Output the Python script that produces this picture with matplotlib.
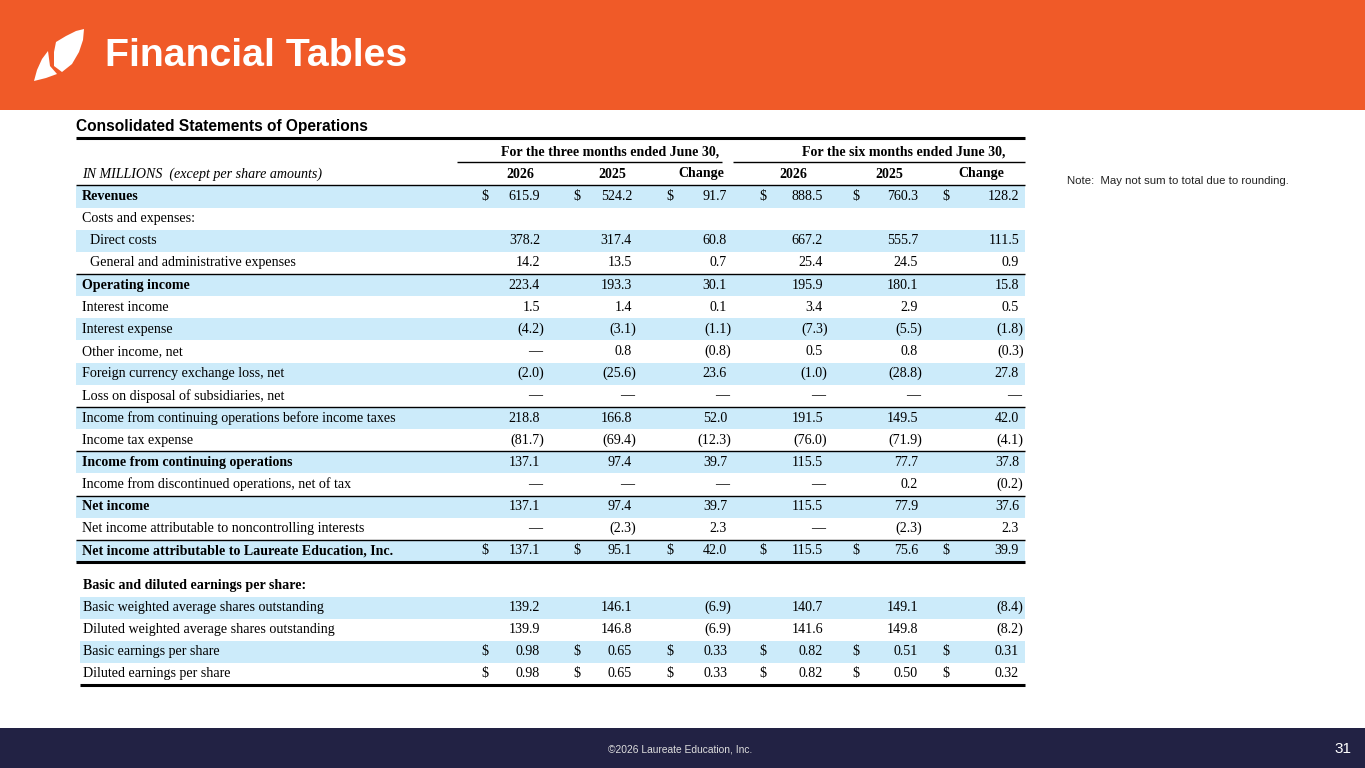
import matplotlib
matplotlib.use("Agg")
import matplotlib.pyplot as plt
import matplotlib.patches as patches

plt.rcParams['font.family'] = 'Liberation Serif'

# --- data ---
group_headers = ["For the three months ended June 30,", "For the six months ended June 30,"]
col_headers = ["2026", "2025", "Change", "2026", "2025", "Change"]
unit_label = "IN MILLIONS  (except per share amounts)"

row_labels = [
    "Revenues", "Costs and expenses:", "Direct costs", "General and administrative expenses",
    "Operating income", "Interest income", "Interest expense", "Other income, net",
    "Foreign currency exchange loss, net", "Loss on disposal of subsidiaries, net",
    "Income from continuing operations before income taxes", "Income tax expense",
    "Income from continuing operations", "Income from discontinued operations, net of tax",
    "Net income", "Net income attributable to noncontrolling interests",
    "Net income attributable to Laureate Education, Inc.",
]
row_bold = [True, False, False, False, True, False, False, False, False, False,
            False, False, True, False, True, False, True]
row_indent = [False, False, True, True] + [False] * 13
row_dollar = [True] + [False] * 15 + [True]
row_shaded = [True, False, True, False, True, False, True, False, True, False,
              True, False, True, False, True, False, True]
row_values = [
    [615.9, 524.2, 91.7, 888.5, 760.3, 128.2],
    None,
    [378.2, 317.4, 60.8, 667.2, 555.7, 111.5],
    [14.2, 13.5, 0.7, 25.4, 24.5, 0.9],
    [223.4, 193.3, 30.1, 195.9, 180.1, 15.8],
    [1.5, 1.4, 0.1, 3.4, 2.9, 0.5],
    [-4.2, -3.1, -1.1, -7.3, -5.5, -1.8],
    [None, 0.8, -0.8, 0.5, 0.8, -0.3],
    [-2.0, -25.6, 23.6, -1.0, -28.8, 27.8],
    [None, None, None, None, None, None],
    [218.8, 166.8, 52.0, 191.5, 149.5, 42.0],
    [-81.7, -69.4, -12.3, -76.0, -71.9, -4.1],
    [137.1, 97.4, 39.7, 115.5, 77.7, 37.8],
    [None, None, None, None, 0.2, -0.2],
    [137.1, 97.4, 39.7, 115.5, 77.9, 37.6],
    [None, -2.3, 2.3, None, -2.3, 2.3],
    [137.1, 95.1, 42.0, 115.5, 75.6, 39.9],
]
# rows with a rule drawn above them
rule_above = [4, 10, 12, 14, 16]

eps_title = "Basic and diluted earnings per share:"
eps_labels = ["Basic weighted average shares outstanding", "Diluted weighted average shares outstanding",
              "Basic earnings per share", "Diluted earnings per share"]
eps_values = [
    [139.2, 146.1, -6.9, 140.7, 149.1, -8.4],
    [139.9, 146.8, -6.9, 141.6, 149.8, -8.2],
    [0.98, 0.65, 0.33, 0.82, 0.51, 0.31],
    [0.98, 0.65, 0.33, 0.82, 0.50, 0.32],
]
eps_dollar = [False, False, True, True]
eps_decimals = [1, 1, 2, 2]

ORANGE = '#F05A28'
NAVY = '#222244'
BAND = '#CCEBFA'

W, H = 1365, 768
fig = plt.figure(figsize=(W / 100, H / 100), dpi=100)
ax = fig.add_axes([0, 0, 1, 1])
ax.set_xlim(0, W)
ax.set_ylim(H, 0)
ax.set_axis_off()

# header band + logo + title
ax.add_patch(patches.Rectangle((0, 0), W, 110, color=ORANGE, lw=0))
leaf_top = [(56, 42), (66, 36), (76, 31), (84, 29), (83, 40), (79, 52), (72, 64),
            (62, 72), (54, 66), (54, 52)]
leaf_low = [(34, 81), (37, 70), (42, 59), (48, 51), (50, 66), (57, 74), (46, 78)]
ax.add_patch(patches.Polygon(leaf_top, closed=True, color='white', lw=0))
ax.add_patch(patches.Polygon(leaf_low, closed=True, color='white', lw=0))
ax.text(105, 56, "Financial Tables", color='white', fontsize=28.3, fontweight='bold',
        family='Liberation Sans', va='center', ha='left')

# footer
ax.add_patch(patches.Rectangle((0, 728), W, 40, color=NAVY, lw=0))
ax.text(680, 750, "\u00a92026 Laureate Education, Inc.", color='#DDDDDD', fontsize=7.4,
        family='Liberation Sans', ha='center', va='center')
ax.text(1351, 749, "31", color='white', fontsize=11, family='Liberation Sans',
        ha='right', va='center')

ax.text(1067, 181, "Note:  May not sum to total due to rounding.", fontsize=8.2,
        family='Liberation Sans', ha='left', va='center', color='#222222')

# table frame
X0, X1 = 76, 1025
ax.text(X0, 127, "Consolidated Statements of Operations", fontsize=11.2, fontweight='bold',
        family='Liberation Sans', ha='left', va='center')
ax.plot([X0, X1], [137.5, 137.5], color='black', lw=2.2, solid_capstyle='butt')

FS = 10.1
group_x = [610, 904]
group_lines = [(457, 722), (733, X1)]
for txt, gx, (la, lb) in zip(group_headers, group_x, group_lines):
    ax.text(gx, 152, txt, fontsize=FS, fontweight='bold', ha='center', va='center')
    ax.plot([la, lb], [161.5, 161.5], color='black', lw=1.0, solid_capstyle='butt')

head_x = [520, 612, 701, 793, 889, 981]
for hx, h in zip(head_x, col_headers):
    ax.text(hx, 174, h, fontsize=FS, fontweight='bold', ha='center', va='center')
ax.text(82, 174, unit_label, fontsize=FS, style='italic', ha='left', va='center')
ax.plot([X0, X1], [185, 185], color='black', lw=1.0, solid_capstyle='butt')

col_right = [540, 632, 727, 823, 918, 1019]
dollar_x = [485, 577, 670, 763, 856, 946]
PAREN = 4.5


def draw_values(y, vals, decimals, dollar):
    for v, cx, dx in zip(vals, col_right, dollar_x):
        if dollar:
            ax.text(dx, y, "$", fontsize=FS, ha='center', va='center')
        if v is None:
            ax.text(cx + 2, y, "\u2014", fontsize=FS, ha='right', va='center')
        elif v < 0:
            ax.text(cx + PAREN, y, "(" + f"{-v:.{decimals}f}" + ")", fontsize=FS,
                    ha='right', va='center')
        else:
            ax.text(cx, y, f"{v:.{decimals}f}", fontsize=FS, ha='right', va='center')


ROW0, STEP = 196.5, 22.15
for i, lab in enumerate(row_labels):
    y = ROW0 + i * STEP
    if row_shaded[i]:
        ax.add_patch(patches.Rectangle((X0, y - 11), X1 - X0, 22, color=BAND, lw=0))
    ax.text(90 if row_indent[i] else 82, y, lab, fontsize=FS,
            fontweight='bold' if row_bold[i] else 'normal', ha='left', va='center')
    if row_values[i] is not None:
        draw_values(y, row_values[i], 1, row_dollar[i])
    if i in rule_above:
        ax.plot([X0, X1], [y - 11, y - 11], color='black', lw=1.0, solid_capstyle='butt')
y_last = ROW0 + (len(row_labels) - 1) * STEP
ax.plot([X0, X1], [y_last + 11.5, y_last + 11.5], color='black', lw=2.2, solid_capstyle='butt')

# EPS block
EX0 = 80
ax.text(83, 585, eps_title, fontsize=FS, fontweight='bold', ha='left', va='center')
for j, lab in enumerate(eps_labels):
    y = 607.5 + j * 22
    if j % 2 == 0:
        ax.add_patch(patches.Rectangle((EX0, y - 11), X1 - EX0, 22, color=BAND, lw=0))
    ax.text(83, y, lab, fontsize=FS, ha='left', va='center')
    draw_values(y, eps_values[j], eps_decimals[j], eps_dollar[j])
ax.plot([EX0, X1], [y + 11, y + 11], color='black', lw=2.2, solid_capstyle='butt')

fig.savefig("out.png", dpi=100)
